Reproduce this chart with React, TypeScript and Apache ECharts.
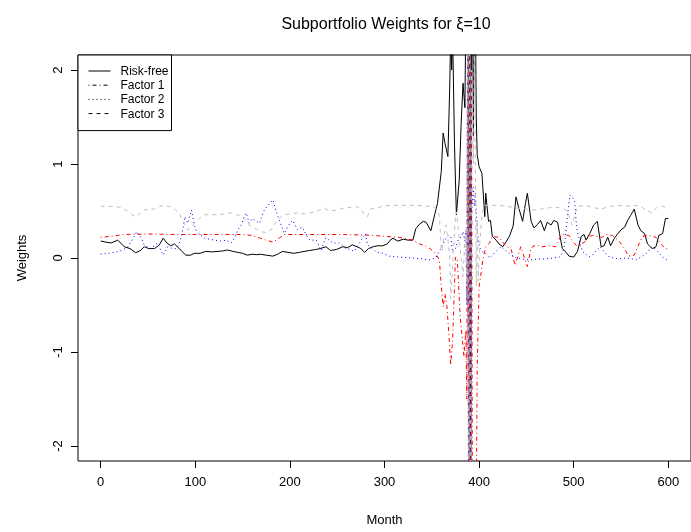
import React, { useEffect, useRef } from "react";
import * as echarts from "echarts";

const xTicks = [0, 100, 200, 300, 400, 500, 600];
const yTicks = [-2, -1, 0, 1, 2];
const seriesNames = ["Risk-free", "Factor 1", "Factor 2", "Factor 3"];

const rfMonths = [0, 5, 11, 18, 25, 31, 37, 42, 46, 51, 57, 62, 66, 70, 74, 78, 81, 86, 90, 95, 99, 105, 111, 118, 124, 129, 134, 140, 145, 150, 155, 160, 165, 169, 175, 182, 187, 192, 198, 204, 210, 215, 221, 227, 232, 238, 243, 249, 256, 261, 266, 271, 275, 279, 283, 288, 293, 298, 303, 306, 309, 314, 320, 325, 330, 333, 337, 341, 344, 349, 353, 356, 360, 362, 364, 367, 369, 370, 371, 372, 374, 376, 379, 381, 383, 385, 386, 387, 388, 389, 390, 391, 392, 393, 394, 395, 396, 397, 398, 400, 403, 406, 407, 410, 412, 414, 418, 421, 425, 429, 432, 436, 439, 442, 446, 449, 451, 455, 458, 462, 465, 469, 472, 476, 479, 483, 485, 488, 492, 495, 500, 504, 508, 511, 513, 517, 521, 525, 529, 532, 536, 539, 543, 546, 550, 554, 557, 560, 564, 568, 571, 575, 578, 583, 587, 590, 594, 597, 600];
const rfValues = [0.18, 0.17, 0.16, 0.19, 0.12, 0.1, 0.056, 0.08, 0.12, 0.1, 0.1, 0.14, 0.21, 0.16, 0.13, 0.15, 0.12, 0.07, 0.03, 0.03, 0.05, 0.05, 0.07, 0.065, 0.07, 0.075, 0.085, 0.07, 0.06, 0.05, 0.03, 0.04, 0.035, 0.04, 0.03, 0.02, 0.04, 0.07, 0.06, 0.05, 0.06, 0.07, 0.08, 0.09, 0.1, 0.12, 0.08, 0.09, 0.12, 0.11, 0.14, 0.12, 0.1, 0.06, 0.1, 0.12, 0.13, 0.13, 0.15, 0.19, 0.21, 0.18, 0.2, 0.19, 0.19, 0.31, 0.36, 0.39, 0.38, 0.29, 0.46, 0.58, 0.92, 1.33, 1.22, 1.08, 1.84, 2.4, 2.0, 2.4, 1.2, 0.46, 0.83, 1.43, 1.86, 1.6, 2.6, 2.3, 3.0, -3.0, 6.0, -4.0, 3.0, 2.8, 1.3, 3.0, 2.8, 1.5, 1.1, 0.97, 0.9, 0.44, 0.69, 0.39, 0.4, 0.23, 0.19, 0.15, 0.12, 0.18, 0.23, 0.34, 0.65, 0.53, 0.39, 0.58, 0.69, 0.39, 0.32, 0.36, 0.4, 0.29, 0.38, 0.35, 0.4, 0.38, 0.26, 0.1, 0.06, 0.02, 0.01, 0.07, 0.23, 0.25, 0.19, 0.26, 0.35, 0.39, 0.12, 0.13, 0.22, 0.13, 0.21, 0.25, 0.3, 0.33, 0.4, 0.45, 0.52, 0.35, 0.29, 0.26, 0.15, 0.1, 0.12, 0.24, 0.26, 0.42, 0.42];

const f1Months = [0, 10, 25, 50, 80, 100, 130, 150, 160, 166, 172, 178, 182, 187, 194, 220, 250, 280, 302, 315, 330, 337, 343, 348, 354, 358, 360, 362, 364, 366, 368, 370, 372, 374, 375, 377, 380, 382, 384, 386, 387, 388, 389, 390, 391, 392, 393, 394, 395, 396, 397, 398, 400, 404, 407, 411, 414, 421, 428, 434, 438, 442, 444, 448, 451, 455, 460, 467, 474, 481, 487, 495, 498, 504, 508, 513, 516, 520, 530, 534, 541, 548, 553, 558, 564, 569, 573, 580, 587, 592, 596, 600];
const f1Values = [0.22, 0.23, 0.25, 0.255, 0.25, 0.25, 0.25, 0.25, 0.24, 0.22, 0.2, 0.18, 0.17, 0.2, 0.25, 0.25, 0.25, 0.245, 0.23, 0.22, 0.19, 0.15, 0.13, 0.1, 0.05, -0.02, -0.3, -0.52, -0.38, -0.52, -0.8, -1.14, -0.87, -0.3, 0.01, -0.02, -0.62, -0.84, -1.05, -0.77, -1.5, 3.0, -4.0, 4.0, -4.0, 2.0, -3.0, -2.5, -3.0, -2.4, -2.6, -1.16, -0.31, -0.02, 0.12, 0.16, 0.23, 0.22, 0.13, 0.09, -0.08, 0.05, 0.12, 0.0, -0.09, 0.11, 0.14, 0.12, 0.13, 0.12, 0.25, 0.24, 0.19, 0.12, 0.15, 0.18, 0.23, 0.24, 0.22, 0.25, 0.24, 0.18, 0.11, 0.02, 0.03, 0.15, 0.23, 0.24, 0.22, 0.15, 0.11, 0.09];

const f2Months = [0, 8, 15, 22, 29, 35, 38, 43, 46, 53, 60, 66, 71, 76, 80, 84, 86, 89, 92, 96, 99, 101, 106, 110, 115, 120, 127, 133, 138, 142, 145, 149, 152, 154, 157, 160, 163, 168, 170, 173, 177, 182, 185, 189, 194, 197, 200, 203, 208, 213, 217, 221, 228, 233, 238, 245, 252, 259, 264, 268, 273, 277, 280, 282, 287, 292, 298, 305, 315, 330, 340, 348, 354, 359, 362, 365, 368, 370, 372, 375, 378, 381, 383, 385, 386, 387, 388, 389, 390, 391, 392, 393, 394, 395, 396, 397, 398, 400, 404, 407, 411, 417, 423, 428, 432, 439, 445, 453, 462, 470, 478, 485, 488, 490, 492, 494, 496, 499, 501, 503, 506, 509, 513, 516, 520, 523, 528, 532, 536, 542, 548, 555, 562, 566, 571, 577, 583, 588, 594, 600];
const f2Values = [0.04, 0.05, 0.06, 0.08, 0.12, 0.22, 0.28, 0.21, 0.14, 0.1, 0.16, 0.03, 0.12, 0.1, 0.1, 0.18, 0.26, 0.44, 0.37, 0.51, 0.35, 0.29, 0.24, 0.21, 0.2, 0.19, 0.18, 0.19, 0.16, 0.22, 0.3, 0.36, 0.45, 0.48, 0.37, 0.42, 0.4, 0.37, 0.44, 0.51, 0.56, 0.62, 0.51, 0.4, 0.26, 0.32, 0.37, 0.4, 0.3, 0.33, 0.25, 0.19, 0.19, 0.08, 0.22, 0.16, 0.16, 0.1, 0.09, 0.07, 0.15, 0.22, 0.26, 0.14, 0.1, 0.06, 0.05, 0.02, 0.01, 0.0, -0.01, -0.02, 0.0, 0.09, 0.15, 0.21, 0.24, 0.23, 0.06, 0.1, 0.2, 0.22, 0.28, 0.18, 0.3, -0.5, 4.0, -4.0, 3.0, -3.0, 0.5, 0.6, 0.75, 0.55, 0.69, 0.5, 0.3, 0.12, 0.06, 0.05, 0.0, 0.06, 0.12, 0.08, 0.05, 0.0, -0.01, -0.02, -0.01, -0.01, 0.0, 0.01, 0.05, 0.12, 0.3, 0.5, 0.67, 0.64, 0.6, 0.33, 0.19, 0.07, 0.04, 0.01, 0.03, 0.07, 0.12, 0.07, 0.02, 0.0, -0.01, 0.0, -0.01, -0.02, 0.01, 0.05, 0.12, 0.08, 0.01, -0.03];

const f3Months = [0, 10, 21, 28, 33, 37, 41, 46, 52, 57, 62, 67, 72, 78, 83, 86, 88, 92, 95, 99, 104, 110, 117, 124, 131, 138, 144, 150, 155, 158, 162, 166, 170, 175, 180, 185, 190, 194, 201, 208, 215, 222, 229, 236, 242, 250, 257, 264, 270, 275, 278, 282, 285, 291, 298, 306, 315, 325, 335, 345, 351, 355, 358, 360, 361, 363, 365, 367, 369, 370, 371, 373, 375, 376, 378, 380, 382, 383, 385, 386, 387, 388, 389, 390, 391, 392, 393, 394, 395, 396, 397, 398, 399, 401, 403, 405, 410, 420, 430, 440, 450, 460, 470, 480, 488, 493, 496, 498, 501, 504, 512, 520, 528, 535, 545, 555, 565, 572, 578, 583, 588, 594, 600];
const f3Values = [0.55, 0.55, 0.54, 0.5, 0.46, 0.44, 0.47, 0.51, 0.52, 0.52, 0.55, 0.56, 0.55, 0.52, 0.48, 0.4, 0.37, 0.3, 0.32, 0.37, 0.42, 0.46, 0.46, 0.46, 0.47, 0.48, 0.46, 0.44, 0.38, 0.34, 0.32, 0.3, 0.28, 0.27, 0.3, 0.38, 0.43, 0.46, 0.47, 0.48, 0.47, 0.48, 0.5, 0.53, 0.5, 0.51, 0.53, 0.54, 0.55, 0.52, 0.47, 0.44, 0.52, 0.53, 0.55, 0.56, 0.56, 0.56, 0.56, 0.55, 0.55, 0.52, 0.45, 0.1, 0.07, 0.25, 0.35, 0.2, 0.0, -0.43, -0.3, 0.1, 0.45, 0.49, 0.3, 0.1, -0.1, -0.2, 0.2, 0.3, -0.3, 3.0, -3.0, 4.0, -4.0, 2.0, 1.5, 1.0, 2.5, 1.0, -0.3, 0.4, -0.25, 0.2, 0.45, 0.56, 0.56, 0.56, 0.55, 0.53, 0.52, 0.51, 0.53, 0.54, 0.53, 0.5, 0.42, 0.35, 0.45, 0.55, 0.56, 0.54, 0.52, 0.54, 0.56, 0.55, 0.56, 0.54, 0.5, 0.48, 0.54, 0.55, 0.53];

const zip = (ms: number[], vs: number[]) => ms.map((m, i) => [m, vs[i]]);

const FONT = "Liberation Sans";

export default function App() {
  const ref = useRef<HTMLDivElement>(null);
  useEffect(() => {
    if (!ref.current) return;
    const chart = echarts.init(ref.current, null, { renderer: "svg" });
    const colors = ["#000000", "#ff0000", "#0000ff", "#bebebe"];
    const types: any[] = ["solid", [1, 3, 4, 3], [1, 3], [4, 4]];
    const datas = [zip(rfMonths, rfValues), zip(f1Months, f1Values), zip(f2Months, f2Values), zip(f3Months, f3Values)];
    chart.setOption({
      animation: false,
      title: {
        text: "Subportfolio Weights for \u03BE=10",
        left: 381,
        top: 10,
        textAlign: "center",
        textStyle: { fontFamily: FONT, fontSize: 16, fontWeight: "normal", color: "#000" },
      },
      legend: {
        orient: "vertical",
        left: 78,
        top: 55,
        borderColor: "#000",
        borderWidth: 1,
        borderRadius: 0,
        padding: [10, 3, 11, 10],
        itemWidth: 22,
        itemHeight: 12,
        itemGap: 2.2,
        backgroundColor: "#fff",
        textStyle: { fontFamily: FONT, fontSize: 12, color: "#000", padding: [0, 0, 0, 5] },
        data: seriesNames.map((n, i) => ({
          name: n,
          lineStyle: { color: "#000", width: 1, type: types[i] },
          itemStyle: { color: "rgba(0,0,0,0)", borderColor: "rgba(0,0,0,0)", borderWidth: 0, opacity: 0 },
        })),
      },
      grid: {
        left: 78,
        right: -1,
        top: 55,
        bottom: 71,
        show: true,
        borderColor: "#000",
        borderWidth: 1,
        backgroundColor: "transparent",
      },
      xAxis: {
        type: "value",
        min: -24,
        max: 624,
        name: "Month",
        nameLocation: "middle",
        nameGap: 52,
        nameTextStyle: { fontFamily: FONT, fontSize: 13, color: "#000" },
        axisLine: { show: false, onZero: false },
        axisTick: { show: true, length: 7, inside: false, customValues: xTicks, lineStyle: { color: "#000" } },
        axisLabel: { customValues: xTicks, fontFamily: FONT, fontSize: 13, color: "#000", margin: 14 },
        splitLine: { show: false },
      },
      yAxis: {
        type: "value",
        min: -2.16,
        max: 2.16,
        name: "Weights",
        nameLocation: "middle",
        nameRotate: 90,
        nameGap: 50,
        nameTextStyle: { fontFamily: FONT, fontSize: 13, color: "#000" },
        axisLine: { show: false, onZero: false },
        axisTick: { show: true, length: 7, inside: false, customValues: yTicks, lineStyle: { color: "#000" } },
        axisLabel: { customValues: yTicks, rotate: 90, fontFamily: FONT, fontSize: 13, color: "#000", margin: 14 },
        splitLine: { show: false },
      },
      series: seriesNames.map((n, i) => ({
        name: n,
        type: "line",
        data: datas[i],
        showSymbol: false,
        symbol: "none",
        clip: true,
        lineStyle: { color: colors[i], width: 1, type: types[i] },
        itemStyle: { color: colors[i] },
        z: 2 + i,
      })),
    });
    return () => chart.dispose();
  }, []);
  return <div ref={ref} style={{ position: "fixed", left: 0, top: 0, width: 691, height: 532 }} />;
}
